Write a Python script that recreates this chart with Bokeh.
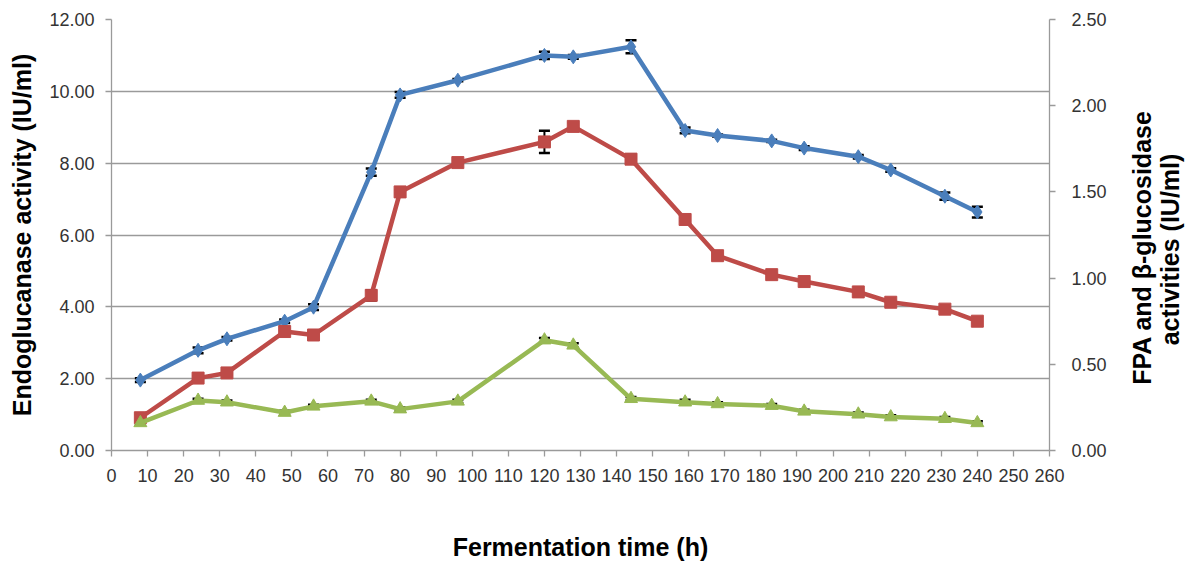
import math
from bokeh.plotting import figure
from bokeh.layouts import row
from bokeh.models import (LinearAxis, Range1d, FixedTicker, NumeralTickFormatter,
                          Whisker, TeeHead, ColumnDataSource)
from bokeh.core.properties import value
from bokeh.embed import file_html
from bokeh.resources import INLINE

# ---- data ----
time_h = [8, 24, 32, 48, 56, 72, 80, 96, 120, 128, 144, 159, 168, 183, 192, 207, 216, 231, 240]
endoglucanase = [1.96, 2.79, 3.11, 3.60, 3.99, 7.75, 9.90, 10.31, 11.00, 10.96, 11.24, 8.91, 8.77,
                 8.62, 8.42, 8.18, 7.81, 7.08, 6.64]
endoglucanase_err = [0.05, 0.08, 0.05, 0.05, 0.08, 0.10, 0.08, 0.03, 0.10, 0.05, 0.18, 0.08, 0.03,
                     0.03, 0.05, 0.05, 0.05, 0.10, 0.15]
fpa = [0.19, 0.42, 0.45, 0.69, 0.67, 0.90, 1.50, 1.67, 1.79, 1.88, 1.69, 1.34, 1.13,
       1.02, 0.98, 0.92, 0.86, 0.82, 0.75]
fpa_err = [0.02, 0.01, 0.01, 0.015, 0.01, 0.03, 0.01, 0.01, 0.065, 0.02, 0.025, 0.01, 0.01,
           0.01, 0.01, 0.01, 0.01, 0.01, 0.01]
bglu = [0.16, 0.29, 0.28, 0.22, 0.256, 0.285, 0.24, 0.285, 0.64, 0.61, 0.30, 0.28, 0.27,
        0.26, 0.227, 0.21, 0.194, 0.184, 0.16]
bglu_err = [0.01, 0.01, 0.01, 0.01, 0.01, 0.01, 0.01, 0.01, 0.012, 0.012, 0.01, 0.015, 0.01,
            0.01, 0.01, 0.01, 0.01, 0.01, 0.01]

x_ticks = list(range(0, 261, 10))
left_ticks = [0, 2, 4, 6, 8, 10, 12]
right_ticks = [0, 0.5, 1.0, 1.5, 2.0, 2.5]
right_title_lines = ["FPA and \u03b2-glucosidase", "activities (IU/ml)"]

BLUE = "#4A7EBB"
RED = "#BE4B48"
GREEN = "#98B954"
FONT = "Liberation Sans"
TITLE_SIZE = "25px"

p = figure(output_backend="svg", toolbar_location=None,
           frame_width=938, frame_height=431,
           min_border_left=111, min_border_right=62, min_border_top=19, min_border_bottom=108,
           x_range=Range1d(0, 260), y_range=Range1d(0, 12))
p.extra_y_ranges = {"right": Range1d(0, 2.5)}
p.outline_line_color = None
p.background_fill_color = "white"
p.border_fill_color = "white"

# grid
p.xgrid.visible = False
p.ygrid.ticker = FixedTicker(ticks=left_ticks)
p.ygrid.grid_line_color = "#9a9a9a"
p.ygrid.grid_line_width = 1.3


def style_axis(ax):
    ax.axis_line_color = "#9a9a9a"
    ax.axis_line_width = 1.3
    ax.major_tick_line_color = "#9a9a9a"
    ax.major_tick_line_width = 1.3
    ax.major_tick_out = 6
    ax.major_tick_in = 0
    ax.minor_tick_line_color = None
    ax.major_label_text_font = FONT
    ax.major_label_text_font_size = "18px"
    ax.major_label_text_color = "#333333"
    ax.axis_label_text_font = FONT
    ax.axis_label_text_font_style = "bold"
    ax.axis_label_text_color = "#000000"
    ax.axis_label_text_font_size = TITLE_SIZE


xa = p.xaxis[0]
style_axis(xa)
xa.ticker = FixedTicker(ticks=x_ticks)
xa.axis_label = "Fermentation time (h)"
xa.axis_label_standoff = 48
xa.major_label_standoff = 12

ya = p.yaxis[0]
style_axis(ya)
ya.ticker = FixedTicker(ticks=left_ticks)
ya.formatter = NumeralTickFormatter(format="0.00")
ya.axis_label = "Endoglucanase activity (IU/ml)"
ya.axis_label_standoff = 10
ya.major_label_standoff = 11

ra = LinearAxis(y_range_name="right")
style_axis(ra)
ra.ticker = FixedTicker(ticks=right_ticks)
ra.formatter = NumeralTickFormatter(format="0.00")
ra.major_label_standoff = 16
p.add_layout(ra, "right")


# error bars
def whisk(vals, errs, rng=None):
    src = ColumnDataSource(dict(x=time_h,
                                up=[v + e for v, e in zip(vals, errs)],
                                lo=[v - e for v, e in zip(vals, errs)]))
    w = Whisker(base="x", upper="up", lower="lo", source=src,
                line_color="black", line_width=2,
                upper_head=TeeHead(size=11, line_color="black", line_width=2.5),
                lower_head=TeeHead(size=11, line_color="black", line_width=2.5))
    if rng:
        w.y_range_name = rng
    p.add_layout(w)


whisk(endoglucanase, endoglucanase_err)
whisk(fpa, fpa_err, "right")
whisk(bglu, bglu_err, "right")

# series
p.line(time_h, endoglucanase, line_color=BLUE, line_width=4.5)
p.scatter(time_h, endoglucanase, marker="diamond", size=14, fill_color=BLUE, line_color=BLUE)

p.line(time_h, fpa, line_color=RED, line_width=4.5, y_range_name="right")
p.scatter(time_h, fpa, marker="square", size=12, fill_color=RED, line_color=RED,
          y_range_name="right")

p.line(time_h, bglu, line_color=GREEN, line_width=4.5, y_range_name="right")
p.scatter(time_h, bglu, marker="triangle", size=13, fill_color=GREEN, line_color=GREEN,
          y_range_name="right")

# right-axis title panel (two lines reading bottom to top)
pt = figure(output_backend="svg", toolbar_location=None,
            frame_width=74, frame_height=431,
            min_border_left=0, min_border_right=0, min_border_top=19, min_border_bottom=108,
            x_range=Range1d(0, 74), y_range=Range1d(0, 431),
            x_axis_type=None, y_axis_type=None)
pt.outline_line_color = None
pt.grid.visible = False
pt.background_fill_color = "white"
pt.border_fill_color = "white"
pt.text(x=[30, 58], y=[203, 201], text=right_title_lines, angle=math.pi / 2,
        text_align="center", text_baseline="middle",
        text_font=value(FONT), text_font_size=TITLE_SIZE, text_font_style="bold",
        text_color="#000000")

layout = row(p, pt, spacing=0)
open("out.html", "w").write(file_html(layout, INLINE))
